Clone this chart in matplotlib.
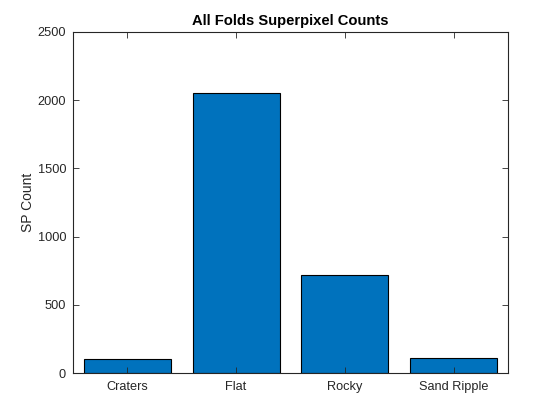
import matplotlib
matplotlib.use("Agg")
import matplotlib.pyplot as plt

categories = ["Craters", "Flat", "Rocky", "Sand Ripple"]
counts = [103, 2050, 720, 107]
yticks = [0, 500, 1000, 1500, 2000, 2500]

plt.rcParams['font.family'] = ['Liberation Sans', 'DejaVu Sans']
ax_col = (0.15, 0.15, 0.15)

fig = plt.figure(figsize=(5.6, 4.19), dpi=100)
ax = fig.add_axes([73/560, 1-373/419, (508-73)/560, (373-32)/419])
x = list(range(1, len(categories)+1))
ax.bar(x, counts, width=0.8, color="#0072BD", edgecolor="black", linewidth=0.8)
ax.set_xlim(0.5, 4.5)
ax.set_ylim(0, 2500)
ax.set_xticks(x)
ax.set_xticklabels(categories)
ax.set_yticks(yticks)
ax.tick_params(direction='in', top=True, right=True, labelsize=9.2, colors=ax_col,
               length=4, width=0.6)
ax.tick_params(axis='x', pad=6)
ax.tick_params(axis='y', pad=5)
for s in ax.spines.values():
    s.set_color(ax_col)
    s.set_linewidth(0.8)
ax.set_ylabel("SP Count", fontsize=10, color=ax_col, labelpad=2)
ax.set_title("All Folds Superpixel Counts", fontsize=10.6, fontweight='bold', pad=5)
fig.savefig("out.png", dpi=100)
